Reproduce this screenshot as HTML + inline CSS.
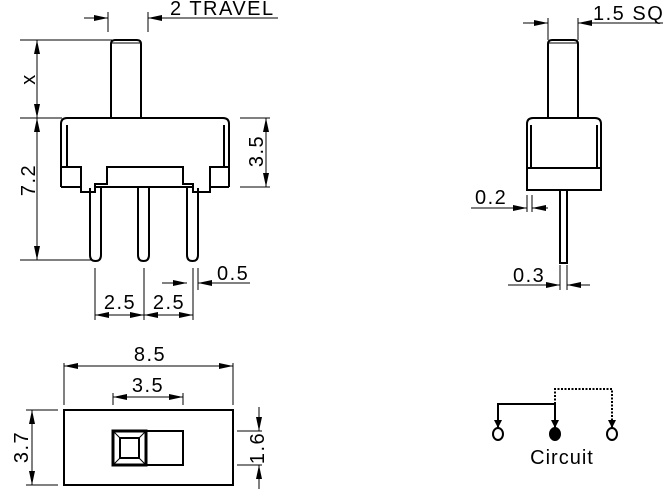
<!DOCTYPE html>
<html><head><meta charset="utf-8"><style>
html,body{margin:0;padding:0;background:#fff}
svg{display:block}
text{font-family:"Liberation Sans",sans-serif;font-size:20px;letter-spacing:1.5px;fill:#000}
</style></head><body>
<svg width="667" height="490" viewBox="0 0 667 490" xmlns="http://www.w3.org/2000/svg">
<defs>
<marker id="a" markerWidth="14" markerHeight="6" refX="14" refY="3" orient="auto" markerUnits="userSpaceOnUse">
<path d="M0,0 L14,3 L0,6 Z" fill="#000"/></marker>
</defs>
<g stroke="#000" stroke-width="1" fill="none">
<line x1="108" y1="12" x2="108" y2="32"/><line x1="148" y1="12" x2="148" y2="32"/>
<line x1="84" y1="18" x2="108" y2="18" marker-end="url(#a)"/>
<line x1="278" y1="18" x2="148" y2="18" marker-end="url(#a)"/>
<line x1="20" y1="40" x2="112" y2="40"/>
<line x1="20" y1="118" x2="62" y2="118"/>
<line x1="37" y1="79" x2="37" y2="40" marker-end="url(#a)"/>
<line x1="37" y1="79" x2="37" y2="118" marker-end="url(#a)"/>
<line x1="20" y1="260" x2="92" y2="260"/>
<line x1="37" y1="190" x2="37" y2="118" marker-end="url(#a)"/>
<line x1="37" y1="190" x2="37" y2="260" marker-end="url(#a)"/>
<line x1="240" y1="118" x2="270" y2="118"/><line x1="240" y1="187" x2="270" y2="187"/>
<line x1="266" y1="150" x2="266" y2="118" marker-end="url(#a)"/>
<line x1="266" y1="150" x2="266" y2="187" marker-end="url(#a)"/>
<line x1="95" y1="268" x2="95" y2="320"/><line x1="144" y1="268" x2="144" y2="320"/><line x1="193" y1="268" x2="193" y2="320"/>
<line x1="120" y1="315" x2="95" y2="315" marker-end="url(#a)"/><line x1="120" y1="315" x2="144" y2="315" marker-end="url(#a)"/>
<line x1="168" y1="315" x2="144" y2="315" marker-end="url(#a)"/><line x1="168" y1="315" x2="193" y2="315" marker-end="url(#a)"/>
<line x1="198" y1="268" x2="198" y2="290"/>
<line x1="162" y1="283" x2="187" y2="283" marker-end="url(#a)"/>
<line x1="250" y1="283" x2="198" y2="283" marker-end="url(#a)"/>
</g>
<g stroke="#000" stroke-width="2" fill="none">
<path d="M111,118 V44 Q111,40 115,40 H137 Q141,40 141,44 V118"/>
<line x1="112" y1="43" x2="140" y2="43" stroke-width="1"/>
<path d="M61,187 V124 Q61,118 67,118 H223 Q229,118 229,124 V187"/>
<line x1="67" y1="125" x2="67" y2="167"/><line x1="224" y1="125" x2="224" y2="167"/>
<path d="M61,167 H81 V187 H61"/>
<path d="M229,167 H210 V187 H229"/>
<path d="M81,187 V192 H95 V184 H107 V167 H183 V184 H193 V192 H210 V187"/>
<line x1="96" y1="187" x2="193" y2="187"/>
<path d="M90,188 V255 Q90,261 95.5,261 Q101,261 101,255 V188"/>
<path d="M138,188 V255 Q138,261 143.5,261 Q149,261 149,255 V188"/>
<path d="M187,188 V255 Q187,261 192.5,261 Q198,261 198,255 V188"/>
</g>
<text x="170" y="15">2 TRAVEL</text>
<text transform="translate(35,79) rotate(-90)" text-anchor="middle">x</text>
<text transform="translate(35,180) rotate(-90)" text-anchor="middle">7.2</text>
<text transform="translate(263,151) rotate(-90)" text-anchor="middle">3.5</text>
<text x="120" y="309" text-anchor="middle">2.5</text>
<text x="169" y="309" text-anchor="middle">2.5</text>
<text x="217" y="280">0.5</text>

<g stroke="#000" stroke-width="1" fill="none">
<line x1="548" y1="18" x2="548" y2="40"/><line x1="578" y1="18" x2="578" y2="40"/>
<line x1="523" y1="23" x2="548" y2="23" marker-end="url(#a)"/>
<line x1="663" y1="23" x2="578" y2="23" marker-end="url(#a)"/>
<line x1="527" y1="195" x2="527" y2="212"/><line x1="532" y1="195" x2="532" y2="212"/>
<line x1="471" y1="208" x2="527" y2="208" marker-end="url(#a)"/>
<line x1="548" y1="208" x2="532" y2="208" marker-end="url(#a)"/>
<line x1="560" y1="265" x2="560" y2="290"/><line x1="567" y1="265" x2="567" y2="290"/>
<line x1="508" y1="285" x2="560" y2="285" marker-end="url(#a)"/>
<line x1="590" y1="285" x2="567" y2="285" marker-end="url(#a)"/>
</g>
<g stroke="#000" stroke-width="2" fill="none">
<path d="M548,118 V44 Q548,40 552,40 H574 Q578,40 578,44 V118"/>
<line x1="549" y1="43" x2="577" y2="43" stroke-width="1"/>
<path d="M527,190 V124 Q527,118 533,118 H595 Q601,118 601,124 V190 Z"/>
<line x1="531" y1="125" x2="531" y2="168"/><line x1="597" y1="125" x2="597" y2="168"/>
<line x1="527" y1="168" x2="601" y2="168"/>
<path d="M560,190 V263 H567 V190"/>
</g>
<text x="593" y="20">1.5 SQ</text>
<text x="475" y="204">0.2</text>
<text x="513" y="282">0.3</text>

<g stroke="#000" stroke-width="1" fill="none">
<line x1="64" y1="363" x2="64" y2="405"/><line x1="233" y1="363" x2="233" y2="405"/>
<line x1="150" y1="366" x2="64" y2="366" marker-end="url(#a)"/>
<line x1="150" y1="366" x2="233" y2="366" marker-end="url(#a)"/>
<line x1="113" y1="393" x2="113" y2="405"/><line x1="183" y1="393" x2="183" y2="405"/>
<line x1="148" y1="397" x2="113" y2="397" marker-end="url(#a)"/>
<line x1="148" y1="397" x2="183" y2="397" marker-end="url(#a)"/>
<line x1="26" y1="410" x2="58" y2="410"/><line x1="26" y1="485" x2="58" y2="485"/>
<line x1="32" y1="447" x2="32" y2="410" marker-end="url(#a)"/>
<line x1="32" y1="447" x2="32" y2="485" marker-end="url(#a)"/>
<line x1="237" y1="431" x2="262" y2="431"/><line x1="237" y1="465" x2="262" y2="465"/>
<line x1="259" y1="407" x2="259" y2="431" marker-end="url(#a)"/>
<line x1="259" y1="489" x2="259" y2="465" marker-end="url(#a)"/>
</g>
<g stroke="#000" stroke-width="2" fill="none">
<rect x="64" y="410" width="169" height="75"/>
<rect x="113" y="431" width="70" height="34"/>
<rect x="113" y="431" width="33" height="34" stroke-width="3"/>
<rect x="120" y="438" width="19" height="20" stroke-width="2"/>
<path d="M114,432 L120,438 M145,432 L139,438 M114,464 L120,458 M145,464 L139,458" stroke-width="1"/>
</g>
<text x="150" y="361" text-anchor="middle">8.5</text>
<text x="148" y="392" text-anchor="middle">3.5</text>
<text transform="translate(28,447) rotate(-90)" text-anchor="middle">3.7</text>
<text transform="translate(264,448) rotate(-90)" text-anchor="middle">1.6</text>

<g stroke="#000" stroke-width="2" fill="none">
<path d="M498,428 V404 H555 V428"/>
<path d="M555,404 V389 H612 V428" stroke-dasharray="2,1.5"/>
</g>
<path d="M494,420 L498,428 L502,420 Z M551,420 L555,428 L559,420 Z M608,420 L612,428 L616,420 Z" fill="#000"/>
<ellipse cx="498" cy="434" rx="5" ry="6" fill="#fff" stroke="#000" stroke-width="2"/>
<ellipse cx="555" cy="434" rx="5" ry="6" fill="#000" stroke="#000" stroke-width="2"/>
<ellipse cx="612" cy="434" rx="5" ry="6" fill="#fff" stroke="#000" stroke-width="2"/>
<text x="562" y="464" text-anchor="middle" style="font-size:20px;letter-spacing:1px">Circuit</text>
</svg>
</body></html>
